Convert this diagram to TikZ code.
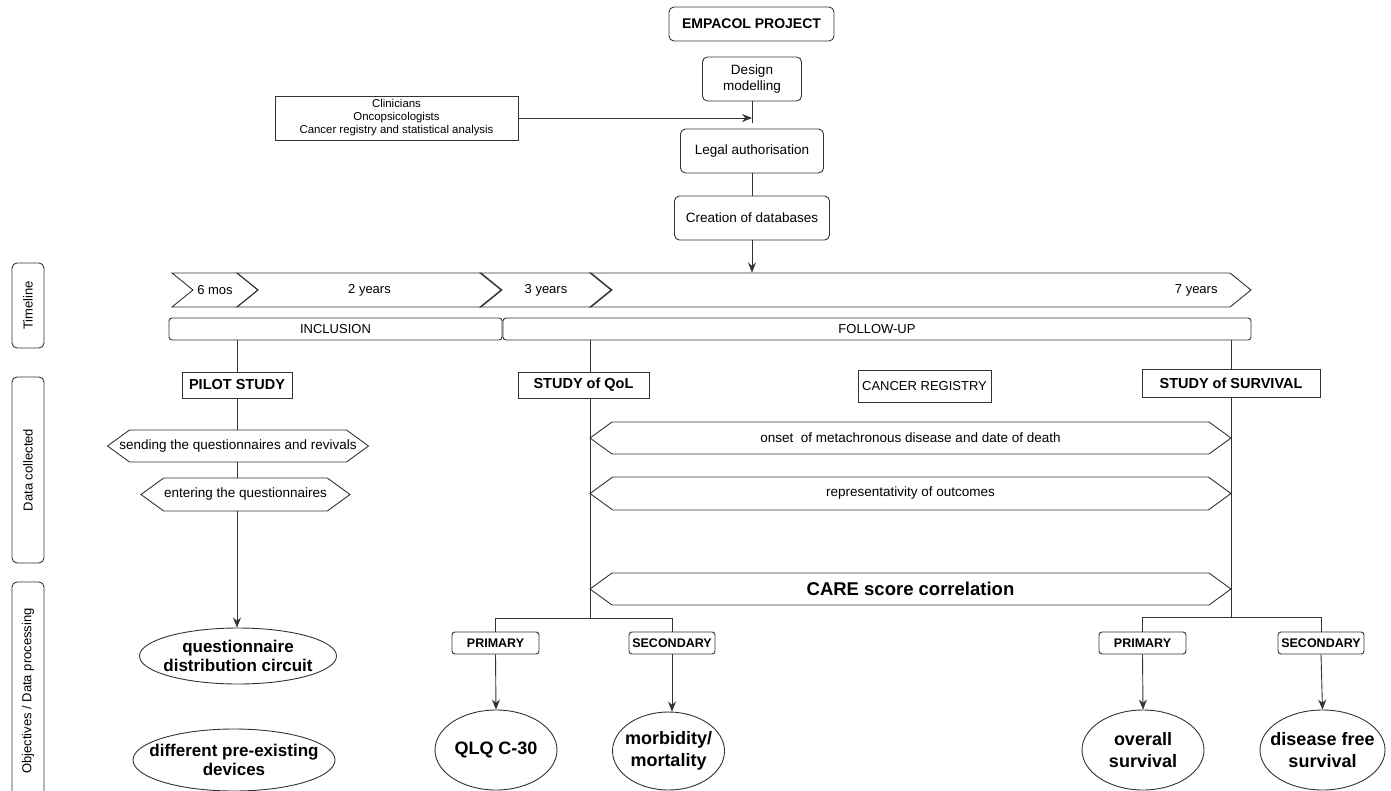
\documentclass[tikz,border=0pt]{standalone}
\usepackage{fontspec}
\setmainfont{Liberation Sans}
\usepackage{tikz}
\usetikzlibrary{arrows.meta,positioning,shapes.geometric,shapes.symbols}

\begin{document}
\begin{tikzpicture}[x=1pt,y=-1pt,line width=0.9pt,color=black!80,
  every node/.style={text=black,align=center,inner sep=1pt,font=\fontsize{13}{15.5}\selectfont},
  box/.style={draw,rounded corners=5pt,minimum height=44,font=\fontsize{13.5}{16}\selectfont},
  plain/.style={draw,minimum height=26,font=\bfseries\fontsize{14.5}{17}\selectfont},
  tag/.style={draw,rounded corners=3pt,minimum width=87,minimum height=22,font=\bfseries\fontsize{12.5}{14}\selectfont},
  bar/.style={draw,rounded corners=3pt,minimum height=22},
  chev/.style={draw,signal,signal from=west,signal to=east,signal pointer angle=78,minimum height=34,inner sep=0pt},
  hexa/.style={draw,signal,signal to=east and west,signal pointer angle=72,minimum height=32,inner ysep=0pt,inner xsep=-14pt,font=\fontsize{13.5}{16}\selectfont},
  goal/.style={draw,ellipse,inner xsep=-20pt,inner ysep=-10pt,font=\bfseries\fontsize{18}{21.5}\selectfont},
  side/.style={draw,rounded corners=5pt,rotate=90,minimum height=32,font=\fontsize{13}{15}\selectfont},
  arr/.style={-{Stealth[length=10pt,width=8pt]}}]
\useasboundingbox (0,0) rectangle (1391,790);

\node[box,minimum width=165,minimum height=34,font=\bfseries\fontsize{14}{16}\selectfont] (proj) at (751.5,24) {EMPACOL PROJECT};
\node[box,minimum width=99] (design) at (752,79) {Design\\modelling};
\node[draw,minimum width=243,minimum height=44,font=\fontsize{11.4}{13}\selectfont] (team) at (396.5,118) {Clinicians\\Oncopsicologists\\Cancer registry and statistical analysis};
\node[box,minimum width=143] (legal) at (752,151) {Legal authorisation};
\node[box,minimum width=155] (dbase) at (752,218) {Creation of databases};
\coordinate (dm) at (752,123);

\node[side,minimum width=85] (sTime) at (28,305.5) {Timeline};
\node[side,minimum width=186] (sData) at (28,470) {Data collected};
\node[side,minimum width=218] (sObj) at (28,691) {Objectives / Data processing};

\node[chev,minimum width=86] (c1) at (215,290) {6 mos};
\node[chev,minimum width=265] (c2) at (369.5,290) {2 years};
\node[chev,minimum width=132] (c3) at (546,290) {3 years};
\node[chev,minimum width=661] (c4) at (920.5,290) {};
\node[anchor=east] (t7) at (1219,290) {7 years};
\node[bar,minimum width=333] (incl) at (335.5,329) {INCLUSION};
\node[bar,minimum width=748] (fol) at (877,329) {FOLLOW-UP};

\node[plain,minimum width=110] (pilot) at (237,385) {PILOT STUDY};
\node[plain,minimum width=131] (qol) at (583.5,385) {STUDY of QoL};
\node[draw,minimum width=133,minimum height=32] (reg) at (924.5,386) {CANCER REGISTRY};
\node[plain,minimum width=178,minimum height=28] (surv) at (1231,383) {STUDY of SURVIVAL};

\node[hexa,minimum width=261] (send) at (238,446) {sending the questionnaires and revivals};
\node[hexa,minimum width=209,minimum height=33] (enter) at (245.5,494.5) {entering the questionnaires};
\node[hexa,minimum width=641] (onset) at (910.5,438) {onset\ \ of metachronous disease and date of death};
\node[hexa,minimum width=641,minimum height=33] (rep) at (910.5,493.5) {representativity of outcomes};
\node[hexa,minimum width=641,font=\bfseries\fontsize{18.5}{21}\selectfont] (care) at (910.5,589) {CARE score correlation};

\node[goal,minimum width=197,minimum height=56,font=\bfseries\fontsize{17}{18.5}\selectfont] (quest) at (238,656) {questionnaire\\distribution circuit};
\node[goal,minimum width=202,minimum height=62,font=\bfseries\fontsize{17}{19}\selectfont] (devices) at (234,760) {different pre-existing\\devices};
\node[tag] (prim1) at (495.5,643) {PRIMARY};
\node[tag,minimum width=86] (sec1) at (672,643) {SECONDARY};
\node[goal,minimum width=122,minimum height=80] (qlq) at (496,750) {QLQ C-30};
\node[goal,minimum width=112,minimum height=78] (morb) at (668.5,751) {morbidity/\\mortality};
\node[tag] (prim2) at (1142.5,643) {PRIMARY};
\node[tag,minimum width=86] (sec2) at (1321,643) {SECONDARY};
\node[goal,minimum width=122,minimum height=80] (overall) at (1143,750) {overall\\survival};
\node[goal,minimum width=125,minimum height=80] (dfs) at (1322.5,750) {disease free\\survival};

\coordinate (qx) at (590,618);
\coordinate (sx) at (1231,617);

\draw (design.south) -- (dm);
\draw[arr] (team.east) -- (team.east -| dm);
\draw (legal.south) -- (dbase.north);
\draw[arr] (dbase.south) -- (dbase.south |- c4.north);

\draw (pilot.north |- incl.south) -- (pilot.north);
\draw (pilot.south) -- (pilot.south |- send.north);
\draw (pilot.south |- send.south) -- (pilot.south |- enter.north);
\draw[arr] (pilot.south |- enter.south) -- (pilot.south |- quest.north);

\draw (qx |- fol.south) -- (qx |- qol.north);
\draw (qx |- qol.south) -- (qx);
\draw (surv.north |- fol.south) -- (surv.north);
\draw (surv.south) -- (sx);

\draw (prim1.north) -- (prim1.north |- qx) -- (sec1.north |- qx) -- (sec1.north);
\draw (prim2.north) -- (prim2.north |- sx) -- (sec2.north |- sx) -- (sec2.north);
\draw[arr] (prim1.south) -- (qlq.north);
\draw[arr] (sec1.south) -- (sec1.south |- morb.north);
\draw[arr] (prim2.south) -- (overall.north);
\draw[arr] (sec2.south) -- (dfs.north);
\end{tikzpicture}
\end{document}
